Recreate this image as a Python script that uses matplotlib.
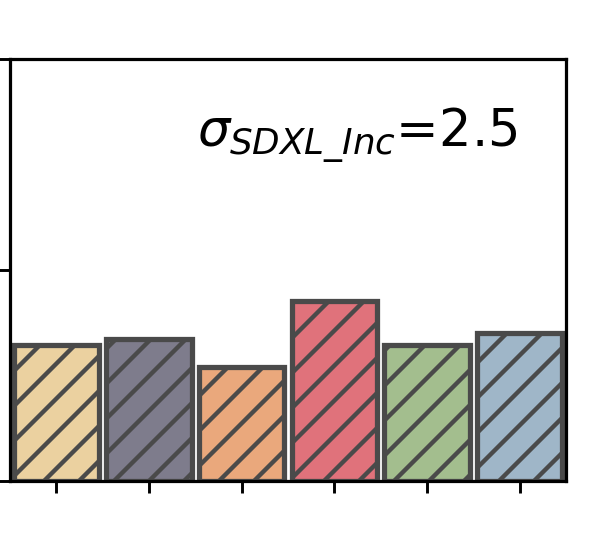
import matplotlib
matplotlib.use("Agg")
import matplotlib.pyplot as plt

# six methods, unlabeled in the crop; heights (ticks at 0, 1, 2)
methods = ["m1", "m2", "m3", "m4", "m5", "m6"]
values = [0.645, 0.673, 0.540, 0.853, 0.645, 0.700]
colors = ["#EBD1A0", "#7E7C8C", "#EAA87C", "#E0727B", "#A3BE8E", "#9FB6C8"]
yticks = [0, 1, 2]
label = r"$\sigma_{SDXL\_Inc}$=2.5"

DPI = 210
plt.rcParams["hatch.linewidth"] = 1.5

fig = plt.figure(figsize=(598 / DPI, 558 / DPI), dpi=DPI)
ax = fig.add_axes([10 / 598, 1 - 481 / 558, 556 / 598, 422 / 558])

xs = range(len(methods))
ax.bar(xs, values, width=0.92, color=colors, edgecolor="#4A4A4A",
       linewidth=1.8, hatch="//")

ax.set_xlim(-0.5, len(methods) - 0.5)
ax.set_ylim(yticks[0], yticks[-1])
ax.set_xticks(list(xs))
ax.set_xticklabels([""] * len(methods))
ax.set_yticks(yticks)
ax.set_yticklabels([""] * len(yticks))
ax.tick_params(length=4, width=1.0)
for s in ax.spines.values():
    s.set_linewidth(1.1)

ax.text(0.912, 0.795, label, transform=ax.transAxes, ha="right",
        va="baseline", fontsize=17.5)

fig.savefig("out.png", dpi=DPI)
